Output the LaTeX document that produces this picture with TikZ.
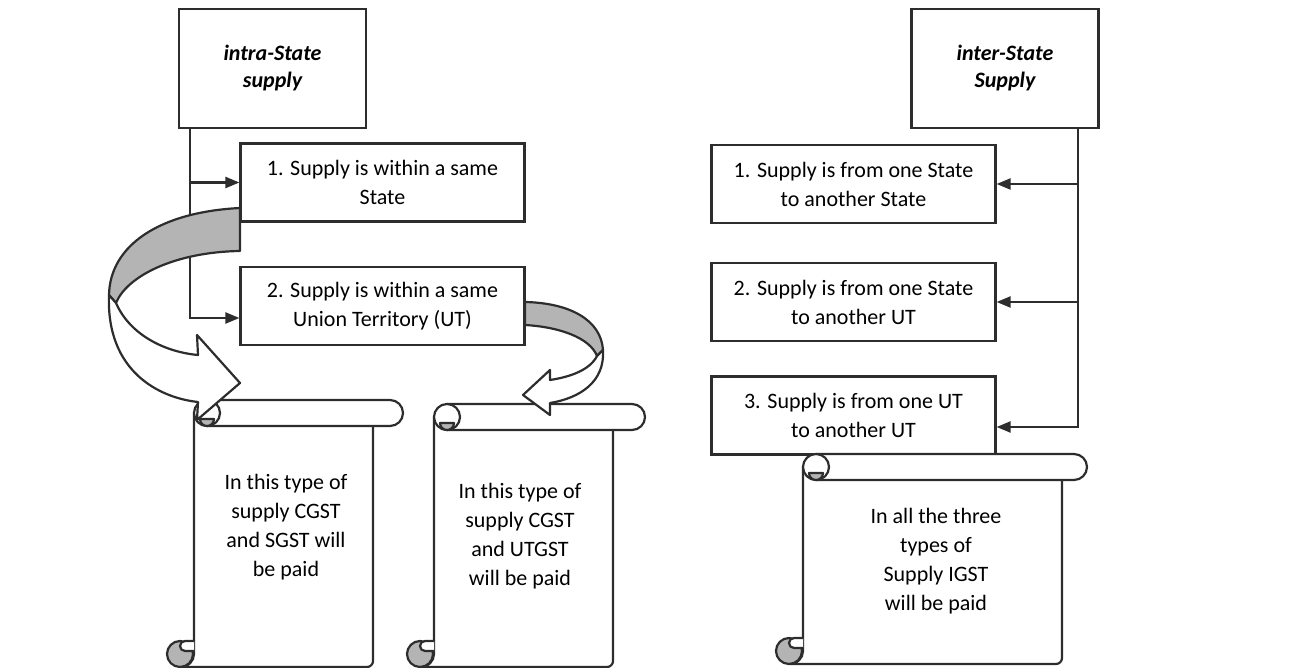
\documentclass[tikz,border=0pt]{standalone}
\definecolor{linegray}{RGB}{45,45,45}
\definecolor{rollgray}{RGB}{180,180,180}
\usepackage{fontspec}
\setmainfont{Carlito}
\usepackage{tikz}
\usetikzlibrary{arrows.meta}

\begin{document}
\begin{tikzpicture}[x=0.5pt, y=-0.5pt,
  headbox/.style={draw=linegray, line width=1.1pt, fill=white, minimum width=93.5pt, minimum height=59.5pt, align=center, font=\fontsize{11}{13.5}\selectfont\bfseries\itshape},
  casebox/.style={draw=linegray, line width=1.1pt, fill=white, minimum width=142pt, minimum height=39pt, inner sep=0pt, align=center, font=\fontsize{11}{14.5}\selectfont},
  notetext/.style={align=center, font=\fontsize{11}{14.5}\selectfont},
  conn/.style={draw=linegray, line width=1.1pt, -{Triangle[length=7pt, width=5.5pt]}},
  scrollline/.style={draw=linegray, line width=1.1pt, line join=round},
  turnband/.style={draw=linegray, line width=1.1pt, line join=round, fill=rollgray},
  turnhead/.style={draw=linegray, line width=1.1pt, line join=round, fill=white}]
  \useasboundingbox (0,0) rectangle (1297,668);

  % Heads
  \node[headbox] (intra) at (272.5, 68.5) {intra-State\\supply};
  \node[headbox] (inter) at (1005, 68.5) {inter-State\\Supply};

  % intra-State cases
  \node[casebox] (s1) at (382.5, 182.5) {1. Supply is within a same\\State};
  \node[casebox] (s2) at (382.5, 306) {2. Supply is within a same\\Union Territory (UT)};

  % inter-State cases
  \node[casebox] (r1) at (853.5, 184) {1. Supply is from one State\\to another State};
  \node[casebox] (r2) at (853.5, 302) {2. Supply is from one State\\to another UT};
  \node[casebox] (r3) at (853.5, 415.5) {3. Supply is from one UT\\to another UT};

  \draw[conn] ([xshift=6pt]intra.south west) |- (s1.west);
  \draw[conn] ([xshift=6pt]intra.south west) |- ([yshift=-6pt]s2.west);
  \draw[conn] ([xshift=-11pt]inter.south east) |- (r1.east);
  \draw[conn] ([xshift=-11pt]inter.south east) |- (r2.east);
  \draw[conn] ([xshift=-11pt]inter.south east) |- ([yshift=-5.75pt]r3.east);

  % Scrolls
  \foreach \L/\R/\T/\B/\E in {194/373/400/667/403, 434/613/404/667/645, 803/1062/454/664/1087} {
    \draw[scrollline, fill=white] (\L,\T+13) -- (\L,\B-13) arc[start angle=0, end angle=90, radius=13] -- (\R-6,\B) arc[start angle=90, end angle=0, radius=6] -- (\R,\T+26);
    \draw[scrollline, fill=white] (\L+13,\T) -- (\E-13,\T) arc[start angle=-90, end angle=90, radius=13] -- (\L+13,\T+26);
    \draw[scrollline, fill=white] (\L+13,\T+13) circle[radius=13];
    \draw[scrollline, fill=rollgray] (\L+6,\T+19) arc[start angle=180, end angle=0, radius=7] -- cycle;
    \draw[scrollline, fill=rollgray] (\L-14,\B-13) circle[radius=13];
    \draw[scrollline, fill=white] (\L,\B-26) -- (\L-9,\B-26) arc[start angle=270, end angle=90, radius=5] -- (\L,\B-16);
  }

  \node[notetext] (note1) at (286, 527) {In this type of\\supply CGST\\and SGST will\\be paid};
  \node[notetext] (note2) at (520, 536) {In this type of\\supply CGST\\and UTGST\\will be paid};
  \node[notetext] (note3) at (936, 561) {In all the three\\types of\\Supply IGST\\will be paid};

  % Bent arrows
  \draw[turnband] (240,208) .. controls (160,212) and (110,245) .. (109,295) -- (116,303) .. controls (127,276) and (175,252) .. (240,251) -- cycle;
  \draw[turnhead] (109,295) .. controls (106,372) and (160,398) .. (198,402) -- (197,420) -- (240,383) -- (197,335) -- (198,355) .. controls (165,352) and (130,335) .. (116,303) -- cycle;
  \draw[turnband] (525,302) .. controls (570,303) and (601,320) .. (603,350) -- (597,356) .. controls (590,338) and (560,327) .. (525,325) -- cycle;
  \draw[turnhead] (603,350) .. controls (605,382) and (580,398) .. (550,403) -- (550,415) -- (523,395) -- (550,370) -- (550,380) .. controls (570,377) and (590,370) .. (597,356) -- cycle;
\end{tikzpicture}
\end{document}
